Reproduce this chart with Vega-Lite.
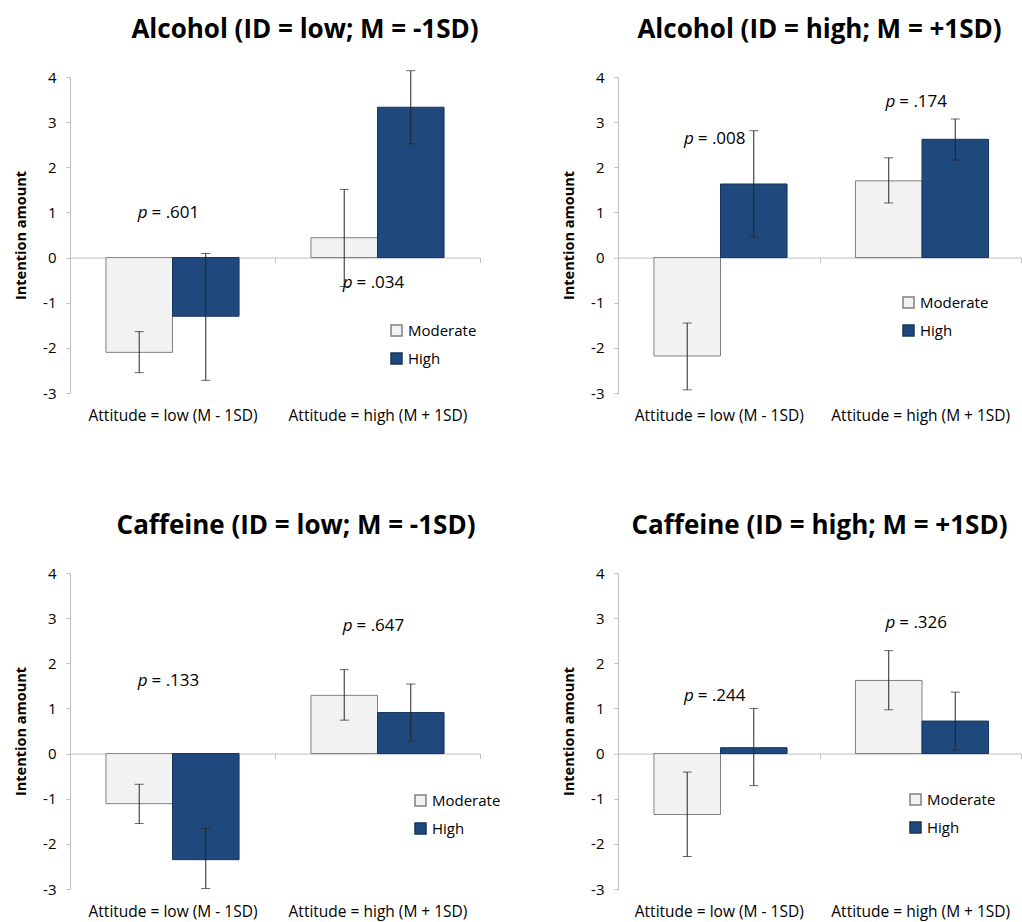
{
  "$schema": "https://vega.github.io/schema/vega-lite/v6.json",
  "background": "white",
  "padding": {"left": 13, "top": 17, "right": 0, "bottom": 0},
  "bounds": "flush",
  "columns": 2,
  "spacing": {"row": 180, "column": 138},
  "datasets": {
    "d": [
      {"panel": "A1", "kind": "bar", "attitude": "Attitude = low (M - 1SD)", "group": "Moderate", "mean": -2.10, "lo": -2.55, "hi": -1.64},
      {"panel": "A1", "kind": "bar", "attitude": "Attitude = low (M - 1SD)", "group": "High", "mean": -1.30, "lo": -2.72, "hi": 0.09},
      {"panel": "A1", "kind": "bar", "attitude": "Attitude = high (M + 1SD)", "group": "Moderate", "mean": 0.44, "lo": -0.64, "hi": 1.51},
      {"panel": "A1", "kind": "bar", "attitude": "Attitude = high (M + 1SD)", "group": "High", "mean": 3.33, "lo": 2.52, "hi": 4.14},
      {"panel": "A1", "kind": "p", "attitude": "Attitude = low (M - 1SD)", "py": 0.98, "label": "= .601"},
      {"panel": "A1", "kind": "p", "attitude": "Attitude = high (M + 1SD)", "py": -0.57, "label": "= .034"},

      {"panel": "A2", "kind": "bar", "attitude": "Attitude = low (M - 1SD)", "group": "Moderate", "mean": -2.18, "lo": -2.93, "hi": -1.45},
      {"panel": "A2", "kind": "bar", "attitude": "Attitude = low (M - 1SD)", "group": "High", "mean": 1.63, "lo": 0.46, "hi": 2.81},
      {"panel": "A2", "kind": "bar", "attitude": "Attitude = high (M + 1SD)", "group": "Moderate", "mean": 1.70, "lo": 1.21, "hi": 2.21},
      {"panel": "A2", "kind": "bar", "attitude": "Attitude = high (M + 1SD)", "group": "High", "mean": 2.62, "lo": 2.16, "hi": 3.07},
      {"panel": "A2", "kind": "p", "attitude": "Attitude = low (M - 1SD)", "py": 2.62, "label": "= .008"},
      {"panel": "A2", "kind": "p", "attitude": "Attitude = high (M + 1SD)", "py": 3.45, "label": "= .174"},

      {"panel": "C1", "kind": "bar", "attitude": "Attitude = low (M - 1SD)", "group": "Moderate", "mean": -1.11, "lo": -1.55, "hi": -0.68},
      {"panel": "C1", "kind": "bar", "attitude": "Attitude = low (M - 1SD)", "group": "High", "mean": -2.35, "lo": -2.99, "hi": -1.66},
      {"panel": "C1", "kind": "bar", "attitude": "Attitude = high (M + 1SD)", "group": "Moderate", "mean": 1.29, "lo": 0.74, "hi": 1.86},
      {"panel": "C1", "kind": "bar", "attitude": "Attitude = high (M + 1SD)", "group": "High", "mean": 0.91, "lo": 0.28, "hi": 1.54},
      {"panel": "C1", "kind": "p", "attitude": "Attitude = low (M - 1SD)", "py": 1.61, "label": "= .133"},
      {"panel": "C1", "kind": "p", "attitude": "Attitude = high (M + 1SD)", "py": 2.83, "label": "= .647"},

      {"panel": "C2", "kind": "bar", "attitude": "Attitude = low (M - 1SD)", "group": "Moderate", "mean": -1.35, "lo": -2.28, "hi": -0.41},
      {"panel": "C2", "kind": "bar", "attitude": "Attitude = low (M - 1SD)", "group": "High", "mean": 0.13, "lo": -0.71, "hi": 1.00},
      {"panel": "C2", "kind": "bar", "attitude": "Attitude = high (M + 1SD)", "group": "Moderate", "mean": 1.62, "lo": 0.97, "hi": 2.28},
      {"panel": "C2", "kind": "bar", "attitude": "Attitude = high (M + 1SD)", "group": "High", "mean": 0.72, "lo": 0.08, "hi": 1.36},
      {"panel": "C2", "kind": "p", "attitude": "Attitude = low (M - 1SD)", "py": 1.28, "label": "= .244"},
      {"panel": "C2", "kind": "p", "attitude": "Attitude = high (M + 1SD)", "py": 2.90, "label": "= .326"}
    ]
  },
  "resolve": {
    "scale": {"fill": "independent", "stroke": "independent"},
    "legend": {"fill": "independent", "stroke": "independent"}
  },
  "concat": [
    {
      "width": 410, "height": 316,
      "title": {"text": "Alcohol (ID = low; M = -1SD)", "font": "Open Sans", "fontSize": 26, "fontWeight": "bold", "color": "#000", "anchor": "middle", "frame": "group", "dx": 30, "offset": 27},
      "data": {"name": "d"},
      "transform": [{"filter": "datum.panel === 'A1'"}],
      "layer": [
        {
          "transform": [{"filter": "datum.kind === 'bar'"}],
          "mark": {"type": "bar", "strokeWidth": 1},
          "encoding": {
            "x": {"field": "attitude", "type": "nominal", "title": null, "sort": ["Attitude = low (M - 1SD)", "Attitude = high (M + 1SD)"], "scale": {"paddingInner": 0, "paddingOuter": 0},
              "axis": {"labelAngle": 0, "domainColor": "#bfbfbf", "tickColor": "#bfbfbf", "tickBand": "extent", "tickSize": 5, "offset": -135.43, "labelPadding": 146, "labelFont": "Open Sans", "labelFontSize": 15.5, "labelColor": "#000", "labelLimit": 300}},
            "xOffset": {"field": "group", "type": "nominal", "sort": ["Moderate", "High"], "scale": {"paddingInner": 0, "paddingOuter": 0.54}},
            "y": {"field": "mean", "type": "quantitative", "title": "Intention amount", "scale": {"domain": [-3, 4], "nice": false, "zero": false},
              "axis": {"values": [-3, -2, -1, 0, 1, 2, 3, 4], "labelExpr": "'' + datum.value", "grid": false, "domainColor": "#bfbfbf", "tickColor": "#bfbfbf", "tickSize": 4, "labelFont": "Open Sans", "labelFontSize": 15, "labelColor": "#000", "labelPadding": 10, "titleFont": "Open Sans", "titleFontSize": 14.5, "titleFontWeight": "bold", "titleColor": "#000", "titlePadding": 14}},
            "fill": {"field": "group", "type": "nominal", "sort": ["Moderate", "High"], "scale": {"domain": ["Moderate", "High"], "range": ["#f2f2f2", "#1f497d"]},
              "legend": {"title": null, "orient": "none", "legendX": 319, "legendY": 246, "symbolType": "square", "symbolSize": 121, "labelFont": "Open Sans", "labelFontSize": 15, "labelColor": "#000", "rowPadding": 11, "labelOffset": 4}},
            "stroke": {"field": "group", "type": "nominal", "sort": ["Moderate", "High"], "scale": {"domain": ["Moderate", "High"], "range": ["#808080", "#17365d"]},
              "legend": {"title": null, "orient": "none", "legendX": 319, "legendY": 246, "symbolType": "square", "symbolSize": 121, "labelFont": "Open Sans", "labelFontSize": 15, "labelColor": "#000", "rowPadding": 11, "labelOffset": 4}}
          }
        },
        {
          "transform": [{"filter": "datum.kind === 'bar'"}],
          "mark": {"type": "rule", "color": "#262626", "strokeWidth": 1},
          "encoding": {
            "x": {"field": "attitude", "type": "nominal", "title": null, "sort": ["Attitude = low (M - 1SD)", "Attitude = high (M + 1SD)"]},
            "xOffset": {"field": "group", "type": "nominal", "sort": ["Moderate", "High"]},
            "y": {"field": "lo", "type": "quantitative", "title": "Intention amount"},
            "y2": {"field": "hi"}
          }
        },
        {
          "transform": [{"filter": "datum.kind === 'bar'"}],
          "mark": {"type": "tick", "orient": "horizontal", "color": "#262626", "size": 9, "thickness": 1},
          "encoding": {
            "x": {"field": "attitude", "type": "nominal", "title": null, "sort": ["Attitude = low (M - 1SD)", "Attitude = high (M + 1SD)"]},
            "xOffset": {"field": "group", "type": "nominal", "sort": ["Moderate", "High"]},
            "y": {"field": "lo", "type": "quantitative", "title": "Intention amount"}
          }
        },
        {
          "transform": [{"filter": "datum.kind === 'bar'"}],
          "mark": {"type": "tick", "orient": "horizontal", "color": "#262626", "size": 9, "thickness": 1},
          "encoding": {
            "x": {"field": "attitude", "type": "nominal", "title": null, "sort": ["Attitude = low (M - 1SD)", "Attitude = high (M + 1SD)"]},
            "xOffset": {"field": "group", "type": "nominal", "sort": ["Moderate", "High"]},
            "y": {"field": "hi", "type": "quantitative", "title": "Intention amount"}
          }
        },
        {
          "transform": [{"filter": "datum.kind === 'p'"}],
          "mark": {"type": "text", "text": "p", "font": "Open Sans", "fontSize": 17, "fontStyle": "italic", "align": "right", "baseline": "middle", "dx": -25, "color": "#000"},
          "encoding": {
            "x": {"field": "attitude", "type": "nominal", "title": null, "sort": ["Attitude = low (M - 1SD)", "Attitude = high (M + 1SD)"]},
            "y": {"field": "py", "type": "quantitative", "title": "Intention amount"}
          }
        },
        {
          "transform": [{"filter": "datum.kind === 'p'"}],
          "mark": {"type": "text", "font": "Open Sans", "fontSize": 17, "align": "left", "baseline": "middle", "dx": -21, "color": "#000"},
          "encoding": {
            "x": {"field": "attitude", "type": "nominal", "title": null, "sort": ["Attitude = low (M - 1SD)", "Attitude = high (M + 1SD)"]},
            "y": {"field": "py", "type": "quantitative", "title": "Intention amount"},
            "text": {"field": "label"}
          }
        }
      ]
    },
    {
      "width": 403, "height": 316,
      "title": {"text": "Alcohol (ID = high; M = +1SD)", "font": "Open Sans", "fontSize": 26, "fontWeight": "bold", "color": "#000", "anchor": "middle", "frame": "group", "dx": 0, "offset": 27},
      "data": {"name": "d"},
      "transform": [{"filter": "datum.panel === 'A2'"}],
      "layer": [
        {
          "transform": [{"filter": "datum.kind === 'bar'"}],
          "mark": {"type": "bar", "strokeWidth": 1},
          "encoding": {
            "x": {"field": "attitude", "type": "nominal", "title": null, "sort": ["Attitude = low (M - 1SD)", "Attitude = high (M + 1SD)"], "scale": {"paddingInner": 0, "paddingOuter": 0},
              "axis": {"labelAngle": 0, "domainColor": "#bfbfbf", "tickColor": "#bfbfbf", "tickBand": "extent", "tickSize": 5, "offset": -135.43, "labelPadding": 146, "labelFont": "Open Sans", "labelFontSize": 15.5, "labelColor": "#000", "labelLimit": 300}},
            "xOffset": {"field": "group", "type": "nominal", "sort": ["Moderate", "High"], "scale": {"paddingInner": 0, "paddingOuter": 0.54}},
            "y": {"field": "mean", "type": "quantitative", "title": "Intention amount", "scale": {"domain": [-3, 4], "nice": false, "zero": false},
              "axis": {"values": [-3, -2, -1, 0, 1, 2, 3, 4], "labelExpr": "'' + datum.value", "grid": false, "domainColor": "#bfbfbf", "tickColor": "#bfbfbf", "tickSize": 4, "labelFont": "Open Sans", "labelFontSize": 15, "labelColor": "#000", "labelPadding": 10, "titleFont": "Open Sans", "titleFontSize": 14.5, "titleFontWeight": "bold", "titleColor": "#000", "titlePadding": 14}},
            "fill": {"field": "group", "type": "nominal", "sort": ["Moderate", "High"], "scale": {"domain": ["Moderate", "High"], "range": ["#f2f2f2", "#1f497d"]},
              "legend": {"title": null, "orient": "none", "legendX": 283, "legendY": 218, "symbolType": "square", "symbolSize": 121, "labelFont": "Open Sans", "labelFontSize": 15, "labelColor": "#000", "rowPadding": 11, "labelOffset": 4}},
            "stroke": {"field": "group", "type": "nominal", "sort": ["Moderate", "High"], "scale": {"domain": ["Moderate", "High"], "range": ["#808080", "#17365d"]},
              "legend": {"title": null, "orient": "none", "legendX": 283, "legendY": 218, "symbolType": "square", "symbolSize": 121, "labelFont": "Open Sans", "labelFontSize": 15, "labelColor": "#000", "rowPadding": 11, "labelOffset": 4}}
          }
        },
        {
          "transform": [{"filter": "datum.kind === 'bar'"}],
          "mark": {"type": "rule", "color": "#262626", "strokeWidth": 1},
          "encoding": {
            "x": {"field": "attitude", "type": "nominal", "title": null, "sort": ["Attitude = low (M - 1SD)", "Attitude = high (M + 1SD)"]},
            "xOffset": {"field": "group", "type": "nominal", "sort": ["Moderate", "High"]},
            "y": {"field": "lo", "type": "quantitative", "title": "Intention amount"},
            "y2": {"field": "hi"}
          }
        },
        {
          "transform": [{"filter": "datum.kind === 'bar'"}],
          "mark": {"type": "tick", "orient": "horizontal", "color": "#262626", "size": 9, "thickness": 1},
          "encoding": {
            "x": {"field": "attitude", "type": "nominal", "title": null, "sort": ["Attitude = low (M - 1SD)", "Attitude = high (M + 1SD)"]},
            "xOffset": {"field": "group", "type": "nominal", "sort": ["Moderate", "High"]},
            "y": {"field": "lo", "type": "quantitative", "title": "Intention amount"}
          }
        },
        {
          "transform": [{"filter": "datum.kind === 'bar'"}],
          "mark": {"type": "tick", "orient": "horizontal", "color": "#262626", "size": 9, "thickness": 1},
          "encoding": {
            "x": {"field": "attitude", "type": "nominal", "title": null, "sort": ["Attitude = low (M - 1SD)", "Attitude = high (M + 1SD)"]},
            "xOffset": {"field": "group", "type": "nominal", "sort": ["Moderate", "High"]},
            "y": {"field": "hi", "type": "quantitative", "title": "Intention amount"}
          }
        },
        {
          "transform": [{"filter": "datum.kind === 'p'"}],
          "mark": {"type": "text", "text": "p", "font": "Open Sans", "fontSize": 17, "fontStyle": "italic", "align": "right", "baseline": "middle", "dx": -25, "color": "#000"},
          "encoding": {
            "x": {"field": "attitude", "type": "nominal", "title": null, "sort": ["Attitude = low (M - 1SD)", "Attitude = high (M + 1SD)"]},
            "y": {"field": "py", "type": "quantitative", "title": "Intention amount"}
          }
        },
        {
          "transform": [{"filter": "datum.kind === 'p'"}],
          "mark": {"type": "text", "font": "Open Sans", "fontSize": 17, "align": "left", "baseline": "middle", "dx": -21, "color": "#000"},
          "encoding": {
            "x": {"field": "attitude", "type": "nominal", "title": null, "sort": ["Attitude = low (M - 1SD)", "Attitude = high (M + 1SD)"]},
            "y": {"field": "py", "type": "quantitative", "title": "Intention amount"},
            "text": {"field": "label"}
          }
        }
      ]
    },
    {
      "width": 410, "height": 316,
      "title": {"text": "Caffeine (ID = low; M = -1SD)", "font": "Open Sans", "fontSize": 26, "fontWeight": "bold", "color": "#000", "anchor": "middle", "frame": "group", "dx": 21, "offset": 27},
      "data": {"name": "d"},
      "transform": [{"filter": "datum.panel === 'C1'"}],
      "layer": [
        {
          "transform": [{"filter": "datum.kind === 'bar'"}],
          "mark": {"type": "bar", "strokeWidth": 1},
          "encoding": {
            "x": {"field": "attitude", "type": "nominal", "title": null, "sort": ["Attitude = low (M - 1SD)", "Attitude = high (M + 1SD)"], "scale": {"paddingInner": 0, "paddingOuter": 0},
              "axis": {"labelAngle": 0, "domainColor": "#bfbfbf", "tickColor": "#bfbfbf", "tickBand": "extent", "tickSize": 5, "offset": -135.43, "labelPadding": 146, "labelFont": "Open Sans", "labelFontSize": 15.5, "labelColor": "#000", "labelLimit": 300}},
            "xOffset": {"field": "group", "type": "nominal", "sort": ["Moderate", "High"], "scale": {"paddingInner": 0, "paddingOuter": 0.54}},
            "y": {"field": "mean", "type": "quantitative", "title": "Intention amount", "scale": {"domain": [-3, 4], "nice": false, "zero": false},
              "axis": {"values": [-3, -2, -1, 0, 1, 2, 3, 4], "labelExpr": "'' + datum.value", "grid": false, "domainColor": "#bfbfbf", "tickColor": "#bfbfbf", "tickSize": 4, "labelFont": "Open Sans", "labelFontSize": 15, "labelColor": "#000", "labelPadding": 10, "titleFont": "Open Sans", "titleFontSize": 14.5, "titleFontWeight": "bold", "titleColor": "#000", "titlePadding": 14}},
            "fill": {"field": "group", "type": "nominal", "sort": ["Moderate", "High"], "scale": {"domain": ["Moderate", "High"], "range": ["#f2f2f2", "#1f497d"]},
              "legend": {"title": null, "orient": "none", "legendX": 343, "legendY": 220, "symbolType": "square", "symbolSize": 121, "labelFont": "Open Sans", "labelFontSize": 15, "labelColor": "#000", "rowPadding": 11, "labelOffset": 4}},
            "stroke": {"field": "group", "type": "nominal", "sort": ["Moderate", "High"], "scale": {"domain": ["Moderate", "High"], "range": ["#808080", "#17365d"]},
              "legend": {"title": null, "orient": "none", "legendX": 343, "legendY": 220, "symbolType": "square", "symbolSize": 121, "labelFont": "Open Sans", "labelFontSize": 15, "labelColor": "#000", "rowPadding": 11, "labelOffset": 4}}
          }
        },
        {
          "transform": [{"filter": "datum.kind === 'bar'"}],
          "mark": {"type": "rule", "color": "#262626", "strokeWidth": 1},
          "encoding": {
            "x": {"field": "attitude", "type": "nominal", "title": null, "sort": ["Attitude = low (M - 1SD)", "Attitude = high (M + 1SD)"]},
            "xOffset": {"field": "group", "type": "nominal", "sort": ["Moderate", "High"]},
            "y": {"field": "lo", "type": "quantitative", "title": "Intention amount"},
            "y2": {"field": "hi"}
          }
        },
        {
          "transform": [{"filter": "datum.kind === 'bar'"}],
          "mark": {"type": "tick", "orient": "horizontal", "color": "#262626", "size": 9, "thickness": 1},
          "encoding": {
            "x": {"field": "attitude", "type": "nominal", "title": null, "sort": ["Attitude = low (M - 1SD)", "Attitude = high (M + 1SD)"]},
            "xOffset": {"field": "group", "type": "nominal", "sort": ["Moderate", "High"]},
            "y": {"field": "lo", "type": "quantitative", "title": "Intention amount"}
          }
        },
        {
          "transform": [{"filter": "datum.kind === 'bar'"}],
          "mark": {"type": "tick", "orient": "horizontal", "color": "#262626", "size": 9, "thickness": 1},
          "encoding": {
            "x": {"field": "attitude", "type": "nominal", "title": null, "sort": ["Attitude = low (M - 1SD)", "Attitude = high (M + 1SD)"]},
            "xOffset": {"field": "group", "type": "nominal", "sort": ["Moderate", "High"]},
            "y": {"field": "hi", "type": "quantitative", "title": "Intention amount"}
          }
        },
        {
          "transform": [{"filter": "datum.kind === 'p'"}],
          "mark": {"type": "text", "text": "p", "font": "Open Sans", "fontSize": 17, "fontStyle": "italic", "align": "right", "baseline": "middle", "dx": -25, "color": "#000"},
          "encoding": {
            "x": {"field": "attitude", "type": "nominal", "title": null, "sort": ["Attitude = low (M - 1SD)", "Attitude = high (M + 1SD)"]},
            "y": {"field": "py", "type": "quantitative", "title": "Intention amount"}
          }
        },
        {
          "transform": [{"filter": "datum.kind === 'p'"}],
          "mark": {"type": "text", "font": "Open Sans", "fontSize": 17, "align": "left", "baseline": "middle", "dx": -21, "color": "#000"},
          "encoding": {
            "x": {"field": "attitude", "type": "nominal", "title": null, "sort": ["Attitude = low (M - 1SD)", "Attitude = high (M + 1SD)"]},
            "y": {"field": "py", "type": "quantitative", "title": "Intention amount"},
            "text": {"field": "label"}
          }
        }
      ]
    },
    {
      "width": 403, "height": 316,
      "title": {"text": "Caffeine (ID = high; M = +1SD)", "font": "Open Sans", "fontSize": 26, "fontWeight": "bold", "color": "#000", "anchor": "middle", "frame": "group", "dx": 0, "offset": 27},
      "data": {"name": "d"},
      "transform": [{"filter": "datum.panel === 'C2'"}],
      "layer": [
        {
          "transform": [{"filter": "datum.kind === 'bar'"}],
          "mark": {"type": "bar", "strokeWidth": 1},
          "encoding": {
            "x": {"field": "attitude", "type": "nominal", "title": null, "sort": ["Attitude = low (M - 1SD)", "Attitude = high (M + 1SD)"], "scale": {"paddingInner": 0, "paddingOuter": 0},
              "axis": {"labelAngle": 0, "domainColor": "#bfbfbf", "tickColor": "#bfbfbf", "tickBand": "extent", "tickSize": 5, "offset": -135.43, "labelPadding": 146, "labelFont": "Open Sans", "labelFontSize": 15.5, "labelColor": "#000", "labelLimit": 300}},
            "xOffset": {"field": "group", "type": "nominal", "sort": ["Moderate", "High"], "scale": {"paddingInner": 0, "paddingOuter": 0.54}},
            "y": {"field": "mean", "type": "quantitative", "title": "Intention amount", "scale": {"domain": [-3, 4], "nice": false, "zero": false},
              "axis": {"values": [-3, -2, -1, 0, 1, 2, 3, 4], "labelExpr": "'' + datum.value", "grid": false, "domainColor": "#bfbfbf", "tickColor": "#bfbfbf", "tickSize": 4, "labelFont": "Open Sans", "labelFontSize": 15, "labelColor": "#000", "labelPadding": 10, "titleFont": "Open Sans", "titleFontSize": 14.5, "titleFontWeight": "bold", "titleColor": "#000", "titlePadding": 14}},
            "fill": {"field": "group", "type": "nominal", "sort": ["Moderate", "High"], "scale": {"domain": ["Moderate", "High"], "range": ["#f2f2f2", "#1f497d"]},
              "legend": {"title": null, "orient": "none", "legendX": 290, "legendY": 219, "symbolType": "square", "symbolSize": 121, "labelFont": "Open Sans", "labelFontSize": 15, "labelColor": "#000", "rowPadding": 11, "labelOffset": 4}},
            "stroke": {"field": "group", "type": "nominal", "sort": ["Moderate", "High"], "scale": {"domain": ["Moderate", "High"], "range": ["#808080", "#17365d"]},
              "legend": {"title": null, "orient": "none", "legendX": 290, "legendY": 219, "symbolType": "square", "symbolSize": 121, "labelFont": "Open Sans", "labelFontSize": 15, "labelColor": "#000", "rowPadding": 11, "labelOffset": 4}}
          }
        },
        {
          "transform": [{"filter": "datum.kind === 'bar'"}],
          "mark": {"type": "rule", "color": "#262626", "strokeWidth": 1},
          "encoding": {
            "x": {"field": "attitude", "type": "nominal", "title": null, "sort": ["Attitude = low (M - 1SD)", "Attitude = high (M + 1SD)"]},
            "xOffset": {"field": "group", "type": "nominal", "sort": ["Moderate", "High"]},
            "y": {"field": "lo", "type": "quantitative", "title": "Intention amount"},
            "y2": {"field": "hi"}
          }
        },
        {
          "transform": [{"filter": "datum.kind === 'bar'"}],
          "mark": {"type": "tick", "orient": "horizontal", "color": "#262626", "size": 9, "thickness": 1},
          "encoding": {
            "x": {"field": "attitude", "type": "nominal", "title": null, "sort": ["Attitude = low (M - 1SD)", "Attitude = high (M + 1SD)"]},
            "xOffset": {"field": "group", "type": "nominal", "sort": ["Moderate", "High"]},
            "y": {"field": "lo", "type": "quantitative", "title": "Intention amount"}
          }
        },
        {
          "transform": [{"filter": "datum.kind === 'bar'"}],
          "mark": {"type": "tick", "orient": "horizontal", "color": "#262626", "size": 9, "thickness": 1},
          "encoding": {
            "x": {"field": "attitude", "type": "nominal", "title": null, "sort": ["Attitude = low (M - 1SD)", "Attitude = high (M + 1SD)"]},
            "xOffset": {"field": "group", "type": "nominal", "sort": ["Moderate", "High"]},
            "y": {"field": "hi", "type": "quantitative", "title": "Intention amount"}
          }
        },
        {
          "transform": [{"filter": "datum.kind === 'p'"}],
          "mark": {"type": "text", "text": "p", "font": "Open Sans", "fontSize": 17, "fontStyle": "italic", "align": "right", "baseline": "middle", "dx": -25, "color": "#000"},
          "encoding": {
            "x": {"field": "attitude", "type": "nominal", "title": null, "sort": ["Attitude = low (M - 1SD)", "Attitude = high (M + 1SD)"]},
            "y": {"field": "py", "type": "quantitative", "title": "Intention amount"}
          }
        },
        {
          "transform": [{"filter": "datum.kind === 'p'"}],
          "mark": {"type": "text", "font": "Open Sans", "fontSize": 17, "align": "left", "baseline": "middle", "dx": -21, "color": "#000"},
          "encoding": {
            "x": {"field": "attitude", "type": "nominal", "title": null, "sort": ["Attitude = low (M - 1SD)", "Attitude = high (M + 1SD)"]},
            "y": {"field": "py", "type": "quantitative", "title": "Intention amount"},
            "text": {"field": "label"}
          }
        }
      ]
    }
  ],
  "config": {
    "view": {"stroke": null},
    "font": "Open Sans"
  }
}
